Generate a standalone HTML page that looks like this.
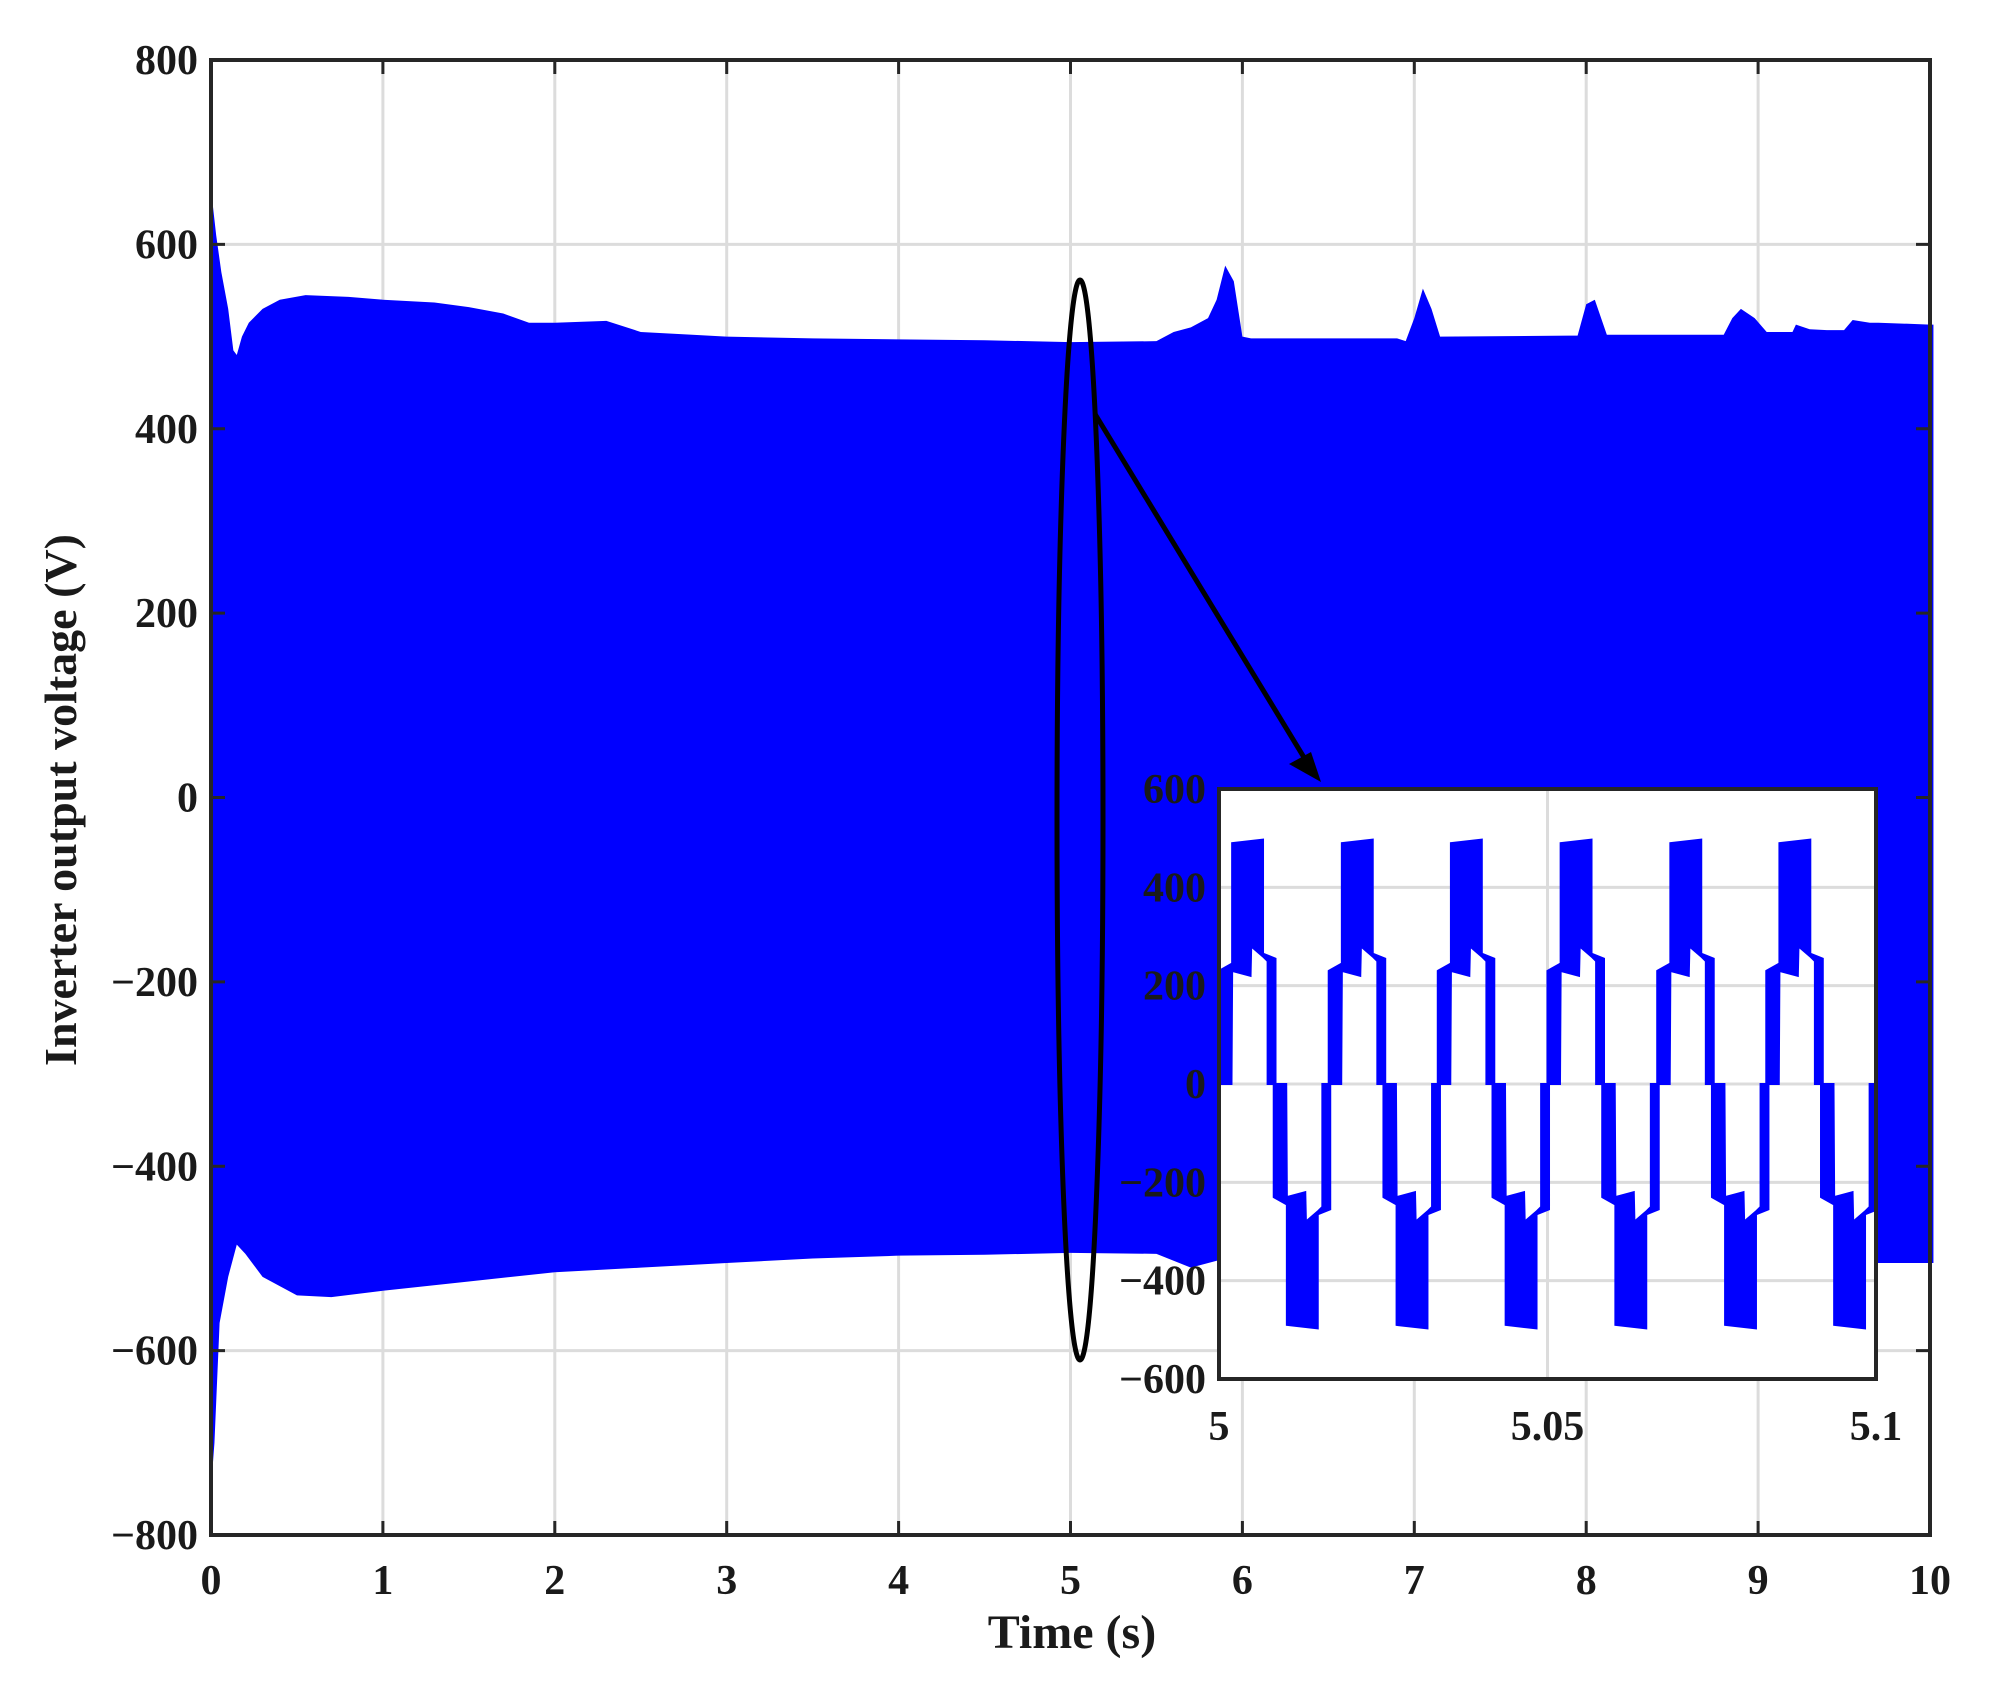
<!DOCTYPE html>
<html><head><meta charset="utf-8"><style>
html,body{margin:0;padding:0;background:#fff;}
svg text{font-family:"Liberation Serif",serif;font-weight:bold;fill:#1a1a1a;}
</style></head><body>
<svg id="chart" width="1995" height="1682" viewBox="0 0 1995 1682" xmlns="http://www.w3.org/2000/svg">
<defs><clipPath id="insetClip"><rect x="1219" y="789" width="657" height="590"/></clipPath></defs>
<g id="main-grid"></g>
<path id="envelope" fill="#0000ff"/>
<g id="main-axes"></g>
<text x="1072" y="1648" text-anchor="middle" font-size="48">Time (s)</text>
<text transform="translate(76,800) rotate(-90)" text-anchor="middle" font-size="46">Inverter output voltage (V)</text>
<ellipse cx="1080" cy="820" rx="23" ry="540" fill="none" stroke="#000" stroke-width="5"/>
<line x1="1095" y1="414" x2="1308" y2="764" stroke="#000" stroke-width="5"/>
<polygon points="1321,782 1289,764 1311,752" fill="#000"/>
<rect x="1219" y="789" width="657" height="590" fill="#fff"/>
<g id="inset-grid"></g>
<g id="inset-wave" clip-path="url(#insetClip)"></g>
<g id="inset-axes"></g>
</svg>
<script>
// main chart data
const xTicks = [0,1,2,3,4,5,6,7,8,9,10];
const yTicks = [-800,-600,-400,-200,0,200,400,600,800];
const upperT = [0,0.03,0.06,0.1,0.13,0.15,0.18,0.22,0.3,0.4,0.55,0.8,1.0,1.3,1.5,1.7,1.85,2.0,2.3,2.5,2.8,3.0,3.5,4.0,4.5,5.0,5.5,5.6,5.7,5.8,5.85,5.9,5.95,6.0,6.05,6.9,6.95,7.0,7.05,7.1,7.15,7.9,7.95,8.0,8.05,8.12,8.8,8.85,8.9,8.98,9.05,9.2,9.22,9.3,9.4,9.5,9.55,9.65,9.7,10,10.02];
const upperV = [660,610,570,530,485,480,500,515,530,540,545,543,540,537,532,525,515,515,517,505,502,500,498,497,496,494,495,505,510,520,540,577,560,500,498,498,495,520,552,530,500,501,501,535,540,502,502,520,530,520,505,505,513,508,507,507,518,515,515,513,513];
const lowerT = [0,0.02,0.05,0.1,0.15,0.2,0.3,0.5,0.7,1.0,1.5,2.0,2.5,3.0,3.5,4.0,4.5,5.0,5.5,5.7,5.9,6.1,7.0,8.0,9.0,9.6,10,10.02];
const lowerV = [-750,-700,-570,-520,-485,-495,-520,-540,-542,-535,-525,-515,-510,-505,-500,-497,-496,-494,-495,-510,-500,-505,-505,-505,-505,-505,-505,-505];
// inset data
const insetXTicks = [5,5.05,5.1];
const insetXLabels = ["5","5.05","5.1"];
const insetYTicks = [-600,-400,-200,0,200,400,600];
const cycleStarts = [5.0,5.0167,5.0333,5.05,5.0667,5.0833,5.1];
const halfPeriodMs = 8.33;
const halfUpperPh = [0,2.0,2.0,6.7,6.7,8.6,8.6];
const halfUpperV = [230,245,490,497,265,255,0];
const halfLowerPh = [0,1.9,2.0,4.8,4.9,6.8,7.4,7.4,8.6];
const halfLowerV = [0,0,230,220,280,258,250,0,0];

const NS="http://www.w3.org/2000/svg";
const L=211,R=1930,T=60,B=1535;
const xs=t=>L+(t-0)/10*(R-L);
const ys=v=>T+(800-v)/1600*(B-T);
const IL=1219,IR=1876,IT=789,IB=1379;
const ixs=t=>IL+(t-5)/0.1*(IR-IL);
const iys=v=>IT+(600-v)/1200*(IB-IT);
function mk(tag,attrs,parent){const e=document.createElementNS(NS,tag);for(const k in attrs)e.setAttribute(k,attrs[k]);parent.appendChild(e);return e;}

const grid=document.getElementById('main-grid');
const axes=document.getElementById('main-axes');
xTicks.forEach(t=>{
  const g=mk('line',{x1:xs(t),x2:xs(t),y1:T,y2:B,stroke:'#dcdcdc','stroke-width':3},grid);
  
  
  const tx=mk('text',{x:xs(t),y:1594,'text-anchor':'middle','font-size':42},axes);
  tx.textContent=t;
  
  
  mk('line',{x1:xs(t),x2:xs(t),y1:B,y2:B-14,stroke:'#262626','stroke-width':3},axes);
  mk('line',{x1:xs(t),x2:xs(t),y1:T,y2:T+14,stroke:'#262626','stroke-width':3},axes);
});
yTicks.forEach(v=>{
  const g=mk('line',{x1:L,x2:R,y1:ys(v),y2:ys(v),stroke:'#dcdcdc','stroke-width':3},grid);
  
  
  const tx=mk('text',{x:198,y:ys(v)+14,'text-anchor':'end','font-size':42},axes);
  tx.textContent=v<0?'\u2212'+(-v):v;
  
  
  mk('line',{x1:L,x2:L+14,y1:ys(v),y2:ys(v),stroke:'#262626','stroke-width':3},axes);
  mk('line',{x1:R,x2:R-14,y1:ys(v),y2:ys(v),stroke:'#262626','stroke-width':3},axes);
});
const box=mk('rect',{x:L,y:T,width:R-L,height:B-T,fill:'none',stroke:'#262626','stroke-width':4},axes);



let d='M'+upperT.map((t,i)=>xs(t)+','+ys(upperV[i])).join(' L');
for(let i=lowerT.length-1;i>=0;i--) d+=' L'+xs(lowerT[i])+','+ys(lowerV[i]);
document.getElementById('envelope').setAttribute('d',d+' Z');

// inset
const ig=document.getElementById('inset-grid');
const ia=document.getElementById('inset-axes');
const iw=document.getElementById('inset-wave');
insetYTicks.forEach(v=>{
  const g=mk('line',{x1:IL,x2:IR,y1:iys(v),y2:iys(v),stroke:'#dcdcdc','stroke-width':3},ig);
  
  
  const tx=mk('text',{x:1206,y:iys(v)+14,'text-anchor':'end','font-size':42},ia);
  tx.textContent=v<0?'\u2212'+(-v):v;
  
  
});
insetXTicks.forEach((t,i)=>{
  const g=mk('line',{x1:ixs(t),x2:ixs(t),y1:IT,y2:IB,stroke:'#dcdcdc','stroke-width':3},ig);
  
  
  const tx=mk('text',{x:ixs(t),y:1440,'text-anchor':'middle','font-size':42},ia);
  tx.textContent=insetXLabels[i];
  
  
});
cycleStarts.forEach(c=>{
  [1,-1].forEach(sgn=>{
    const off=sgn>0?0:halfPeriodMs;
    let pd='M'+halfUpperPh.map((p,i)=>ixs(c+(p+off)/1000)+','+iys(sgn*halfUpperV[i])).join(' L');
    for(let i=halfLowerPh.length-1;i>=0;i--) pd+=' L'+ixs(c+(halfLowerPh[i]+off)/1000)+','+iys(sgn*halfLowerV[i]);
    const p=mk('path',{d:pd+' Z',fill:'#0000ff',stroke:'#0000ff','stroke-width':2},iw);
    
    
  });
});
const ib=mk('rect',{x:IL,y:IT,width:IR-IL,height:IB-IT,fill:'none',stroke:'#262626','stroke-width':4},ia);


</script>
</body></html>
